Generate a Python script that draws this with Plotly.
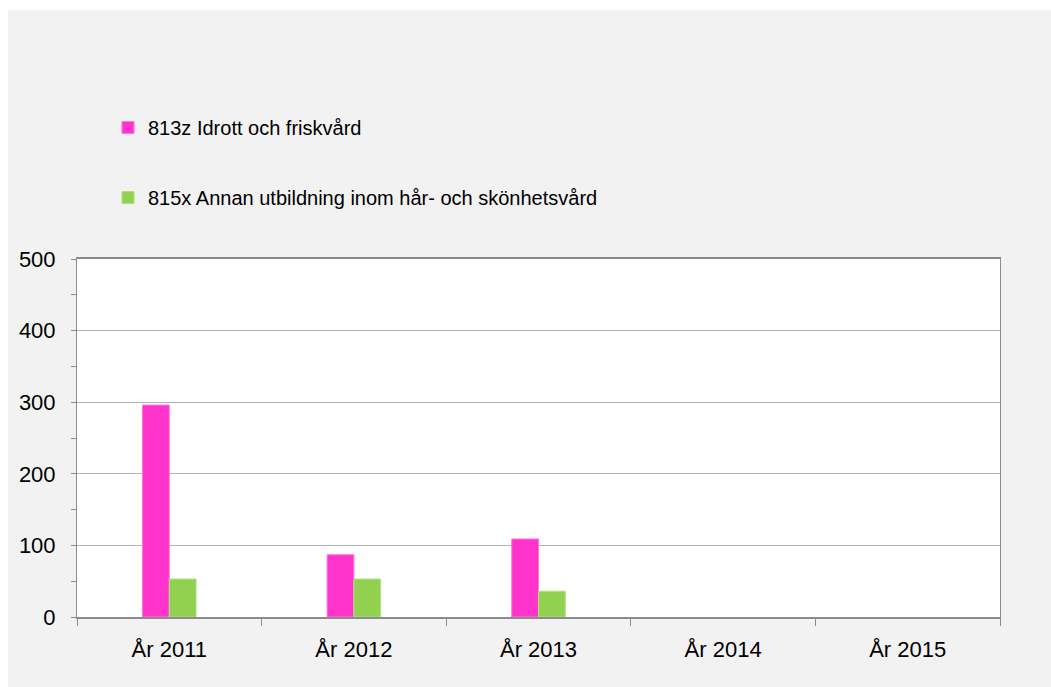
import plotly.graph_objects as go

categories = ["År 2011", "År 2012", "År 2013", "År 2014", "År 2015"]
series1_name = "813z Idrott och friskvård"
series1_values = [296, 87, 109, None, None]
series2_name = "815x Annan utbildning inom hår- och skönhetsvård"
series2_values = [53, 53, 36, None, None]

W, H = 1051, 687
L, R, T, B = 77, 1000, 259, 617  # plot area in pixels

fig = go.Figure()
fig.add_trace(go.Bar(x=categories, y=series1_values, name=series1_name,
                     marker=dict(color="#ff33cc", line=dict(color="#ff77dd", width=1)),
                     legend="legend"))
fig.add_trace(go.Bar(x=categories, y=series2_values, name=series2_name,
                     marker=dict(color="#92d050", line=dict(color="#b0e080", width=1)),
                     legend="legend2"))

pw, ph = R - L, B - T
def px(x):
    return (x - L) / pw
def py(y):
    return (B - y) / ph

font_family = "Liberation Sans, Arial, sans-serif"

fig.update_layout(
    width=W, height=H,
    margin=dict(l=L, r=W - R, t=T, b=H - B, pad=0),
    paper_bgcolor="#f2f2f2",
    plot_bgcolor="white",
    font=dict(family=font_family, color="#000000", size=20),
    barmode="group",
    bargap=0.71,
    bargroupgap=0,
    showlegend=True,
    legend=dict(x=px(108), y=py(108), xanchor="left", yanchor="top",
                bgcolor="rgba(0,0,0,0)", font=dict(size=20), itemwidth=30,
                tracegroupgap=0),
    legend2=dict(x=px(108), y=py(178), xanchor="left", yanchor="top",
                 bgcolor="rgba(0,0,0,0)", font=dict(size=20), itemwidth=30,
                 tracegroupgap=0),
    shapes=[
        dict(type="rect", xref="paper", yref="paper",
             x0=px(-5), x1=px(W + 5), y0=py(10), y1=py(-5),
             fillcolor="white", line=dict(width=0), layer="below"),
        dict(type="rect", xref="paper", yref="paper",
             x0=px(-5), x1=px(8), y0=py(H + 5), y1=py(-5),
             fillcolor="white", line=dict(width=0), layer="below"),
    ],
)

fig.update_xaxes(
    type="category",
    showline=True, linecolor="#8c8c8c", linewidth=2, mirror=True,
    ticks="outside", tickson="boundaries", ticklen=7, tickcolor="#8c8c8c", tickwidth=1,
    showgrid=False,
    tickfont=dict(size=22),
    ticklabelstandoff=12,
)
fig.update_yaxes(
    range=[0, 500], dtick=100, tick0=0,
    showline=True, linecolor="#8c8c8c", linewidth=1, mirror=True,
    ticks="outside", ticklen=5, tickcolor="#8c8c8c",
    showgrid=True, gridcolor="#b4b4b4", gridwidth=1,
    zeroline=False,
    minor=dict(dtick=50, ticks="outside", ticklen=5, tickcolor="#8c8c8c", showgrid=False),
    tickfont=dict(size=22),
    ticklabelstandoff=11,
)

fig.write_html("out.html", config={"displayModeBar": False},
               post_script="document.body.style.margin='0';document.body.style.padding='0';")
